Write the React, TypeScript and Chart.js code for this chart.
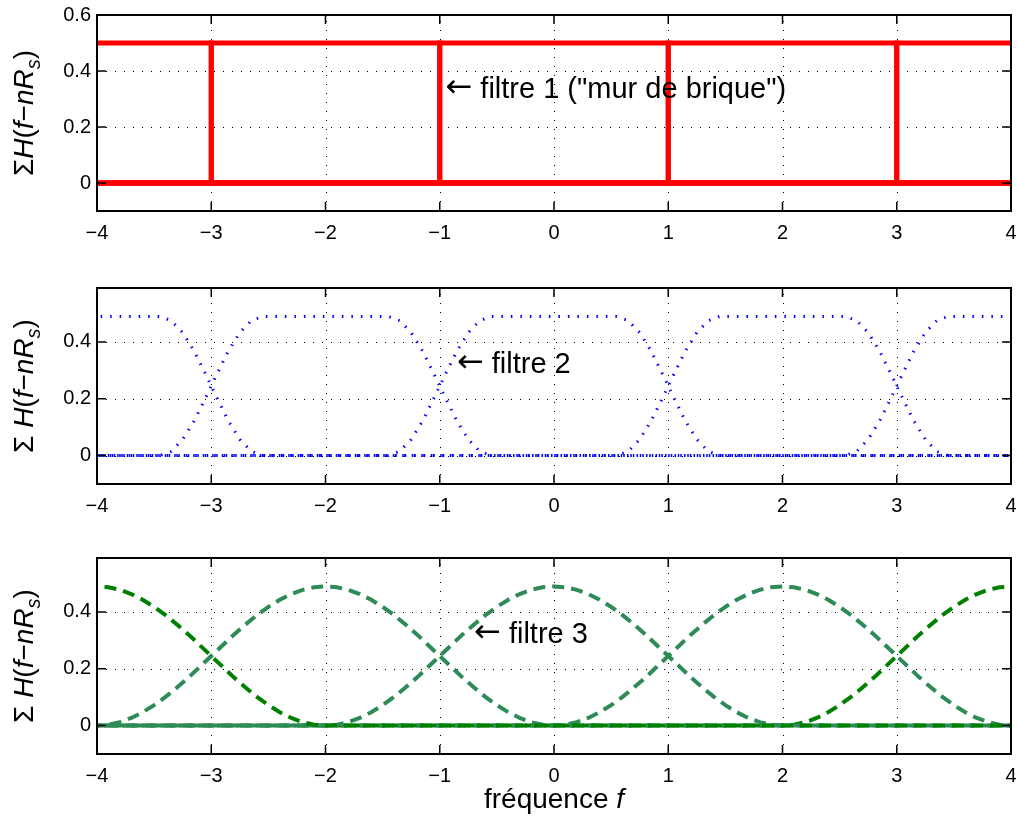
import React, { useEffect, useRef } from "react";
import { Chart, registerables } from "chart.js";
Chart.register(...registerables);

const FONT = "'Liberation Sans', Arial, Helvetica, sans-serif";
const ARROW_FONT = "'DejaVu Sans', 'Liberation Sans', sans-serif";

// axes
const xMin = -4;
const xMax = 4;
const xTicks = [-4, -3, -2, -1, 0, 1, 2, 3, 4];
const yRange1 = [-0.1, 0.6];
const yRange23 = [-0.1, 0.59];
const yTicks1 = [0, 0.2, 0.4, 0.6];
const yTicks23 = [0, 0.2, 0.4];

// shifts n*Rs of the filter
const centers = [-4, -2, 0, 2, 4];

// filter 1 : brick wall
const f1F = [-1, -1, 1, 1];
const f1H = [0, 0.5, 0.5, 0];

// filter 2 : raised cosine, small roll-off
const f2F = [-1.45, -1.35, -1.25, -1.15, -1.05, -0.95, -0.85, -0.75, -0.65, -0.55,
  0.55, 0.65, 0.75, 0.85, 0.95, 1.05, 1.15, 1.25, 1.35, 1.45];
const f2H = [0, 0.015, 0.057, 0.122, 0.203, 0.287, 0.368, 0.433, 0.475, 0.49,
  0.49, 0.475, 0.433, 0.368, 0.287, 0.203, 0.122, 0.057, 0.015, 0];

// filter 3 : raised cosine, full roll-off
const f3F = [-2, -1.9, -1.8, -1.7, -1.6, -1.5, -1.4, -1.3, -1.2, -1.1, -1, -0.9, -0.8, -0.7, -0.6, -0.5,
  -0.4, -0.3, -0.2, -0.1, 0, 0.1, 0.2, 0.3, 0.4, 0.5, 0.6, 0.7, 0.8, 0.9, 1, 1.1, 1.2, 1.3, 1.4, 1.5,
  1.6, 1.7, 1.8, 1.9, 2];
const f3H = [0, 0.003, 0.012, 0.027, 0.047, 0.072, 0.101, 0.134, 0.169, 0.207, 0.245, 0.283, 0.321,
  0.356, 0.389, 0.418, 0.443, 0.463, 0.478, 0.487, 0.49, 0.487, 0.478, 0.463, 0.443, 0.418, 0.389,
  0.356, 0.321, 0.283, 0.245, 0.207, 0.169, 0.134, 0.101, 0.072, 0.047, 0.027, 0.012, 0.003, 0];
const f3Colors = ["#008000", "#2e8b57", "#2e8b57", "#2e8b57", "#008000"];
const dashOffsets = [0, 6, 12, 3, 9];

// annotations
const annText = [' filtre 1 ("mur de brique")', " filtre 2", " filtre 3"];
const annX = [-0.95, -0.85, -0.7];
const annY = [0.333, 0.32, 0.32];

const panels = [
  { top: 0, height: 270, axisH: 59 },
  { top: 273, height: 270, axisH: 59 },
  { top: 543, height: 276, axisH: 65 },
];

function shifted(c: number, F: number[], H: number[]) {
  const pts: { x: number; y: number }[] = [];
  if (c + F[0] > -5) pts.push({ x: -5, y: 0 });
  F.forEach((f, i) => pts.push({ x: c + f, y: H[i] }));
  if (c + F[F.length - 1] < 5) pts.push({ x: 5, y: 0 });
  return pts;
}

function buildDatasets(idx: number) {
  if (idx === 0) {
    return centers.map((c) => ({
      data: shifted(c, f1F, f1H),
      borderColor: "#ff0000",
      borderWidth: 5,
      pointRadius: 0,
    }));
  }
  if (idx === 1) {
    return centers.map((c, i) => ({
      data: shifted(c, f2F, f2H),
      borderColor: "#0000ff",
      borderWidth: 3,
      borderDash: [1.5, 8],
      borderDashOffset: i * 2,
      pointRadius: 0,
    }));
  }
  return centers.map((c, i) => ({
    data: shifted(c, f3F, f3H),
    borderColor: f3Colors[i],
    borderWidth: 4,
    borderDash: [12, 7],
    borderDashOffset: dashOffsets[i],
    pointRadius: 0,
  }));
}

const fmt = (v: number) => {
  const r = Math.round(v * 100) / 100;
  return r < 0 ? "\u2212" + Math.abs(r) : String(r);
};

type Seg = [string, string];
const yLabel1: Seg[] = [["\u03A3", "n"], ["H", "i"], ["(", "n"], ["f", "i"], ["\u2212", "n"], ["n", "i"], ["R", "i"], ["s", "s"], [")", "n"]];
const yLabel23: Seg[] = [["\u03A3", "n"], [" ", "n"], ["H", "i"], ["(", "n"], ["f", "i"], ["\u2212", "n"], ["n", "i"], ["R", "i"], ["s", "s"], [")", "n"]];
const xLabel: Seg[] = [["fr\u00e9quence ", "n"], ["f", "i"]];

function segFont(kind: string, size: number) {
  if (kind === "i") return `italic ${size}px ${FONT}`;
  if (kind === "s") return `italic ${Math.round(size * 0.7)}px ${FONT}`;
  return `${size}px ${FONT}`;
}

function drawSegs(ctx: CanvasRenderingContext2D, segs: Seg[], size: number) {
  let total = 0;
  const widths = segs.map(([t, k]) => {
    ctx.font = segFont(k, size);
    const w = ctx.measureText(t).width;
    total += w;
    return w;
  });
  let x = -total / 2;
  ctx.textAlign = "left";
  ctx.textBaseline = "alphabetic";
  segs.forEach(([t, k], i) => {
    ctx.font = segFont(k, size);
    ctx.fillText(t, x, k === "s" ? size * 0.25 : 0);
    x += widths[i];
  });
}

function framePlugin(idx: number) {
  const yTicks = idx === 0 ? yTicks1 : yTicks23;
  return {
    id: "frame" + idx,
    beforeDatasetsDraw(chart: any) {
      const { ctx, chartArea: a, scales } = chart;
      const xs = scales.x;
      const ys = scales.y;
      ctx.save();
      ctx.strokeStyle = "#000";
      ctx.lineWidth = 1;
      ctx.setLineDash([1, 8]);
      xTicks.forEach((v) => {
        const px = Math.round(xs.getPixelForValue(v)) + 0.5;
        if (px <= a.left + 2 || px >= a.right - 2) return;
        ctx.beginPath();
        ctx.moveTo(px, a.bottom);
        ctx.lineTo(px, a.top);
        ctx.stroke();
      });
      yTicks.forEach((v) => {
        const py = Math.round(ys.getPixelForValue(v)) + 0.5;
        if (py <= a.top + 2 || py >= a.bottom - 2) return;
        ctx.beginPath();
        ctx.moveTo(a.left, py);
        ctx.lineTo(a.right, py);
        ctx.stroke();
      });
      ctx.restore();
    },
    afterDatasetsDraw(chart: any) {
      const { ctx, chartArea: a, scales } = chart;
      const xs = scales.x;
      const ys = scales.y;
      ctx.save();
      ctx.strokeStyle = "#000";
      ctx.lineWidth = 1.5;
      const tl = 9;
      xTicks.forEach((v) => {
        const px = xs.getPixelForValue(v);
        ctx.beginPath();
        ctx.moveTo(px, a.bottom);
        ctx.lineTo(px, a.bottom - tl);
        ctx.moveTo(px, a.top);
        ctx.lineTo(px, a.top + tl);
        ctx.stroke();
      });
      yTicks.forEach((v) => {
        const py = ys.getPixelForValue(v);
        ctx.beginPath();
        ctx.moveTo(a.left, py);
        ctx.lineTo(a.left + tl, py);
        ctx.moveTo(a.right, py);
        ctx.lineTo(a.right - tl, py);
        ctx.stroke();
      });
      ctx.lineWidth = 2;
      ctx.strokeRect(a.left, a.top, a.right - a.left, a.bottom - a.top);

      // annotation: arrow + text
      const ax = xs.getPixelForValue(annX[idx]);
      const ay = ys.getPixelForValue(annY[idx]);
      ctx.fillStyle = "#000";
      ctx.textAlign = "left";
      ctx.textBaseline = "middle";
      ctx.font = `32px ${ARROW_FONT}`;
      ctx.fillText("\u2190", ax, ay - 1);
      const aw = ctx.measureText("\u2190").width;
      ctx.font = `29px ${FONT}`;
      ctx.fillText(annText[idx], ax + aw, ay);

      // y label
      ctx.save();
      ctx.translate(33, (a.top + a.bottom) / 2);
      ctx.rotate(-Math.PI / 2);
      drawSegs(ctx, idx === 0 ? yLabel1 : yLabel23, 28);
      ctx.restore();

      // x label
      if (idx === 2) {
        ctx.save();
        ctx.translate((a.left + a.right) / 2, chart.height - 11);
        drawSegs(ctx, xLabel, 28);
        ctx.restore();
      }
      ctx.restore();
    },
  };
}

function Panel({ idx }: { idx: number }) {
  const ref = useRef<HTMLCanvasElement>(null);
  const cfg = panels[idx];
  useEffect(() => {
    const yr = idx === 0 ? yRange1 : yRange23;
    const yt = idx === 0 ? yTicks1 : yTicks23;
    const chart = new Chart(ref.current!, {
      type: "line",
      data: { datasets: buildDatasets(idx) as any },
      options: {
        responsive: false,
        animation: false,
        events: [],
        layout: { padding: { top: 15, right: 7, left: 0, bottom: 0 } },
        plugins: { legend: { display: false }, tooltip: { enabled: false } },
        elements: { point: { radius: 0 }, line: { tension: 0 } },
        scales: {
          x: {
            type: "linear",
            min: xMin,
            max: xMax,
            afterBuildTicks: (s: any) => {
              s.ticks = xTicks.map((v) => ({ value: v }));
            },
            afterFit: (s: any) => {
              s.height = cfg.axisH;
              s.paddingLeft = 0;
              s.paddingRight = 0;
            },
            grid: { display: false, drawTicks: false },
            border: { display: false },
            ticks: {
              autoSkip: false,
              maxRotation: 0,
              padding: 10,
              color: "#000",
              font: { family: FONT, size: 20 },
              callback: (v: any) => fmt(Number(v)),
            },
          },
          y: {
            type: "linear",
            min: yr[0],
            max: yr[1],
            afterBuildTicks: (s: any) => {
              s.ticks = yt.map((v) => ({ value: v }));
            },
            afterFit: (s: any) => {
              s.width = 97;
              s.paddingTop = 0;
              s.paddingBottom = 0;
            },
            grid: { display: false, drawTicks: false },
            border: { display: false },
            ticks: {
              autoSkip: false,
              padding: 6,
              color: "#000",
              font: { family: FONT, size: 20 },
              callback: (v: any) => fmt(Number(v)),
            },
          },
        },
      } as any,
      plugins: [framePlugin(idx)],
    });
    return () => chart.destroy();
  }, []);
  return (
    <canvas
      ref={ref}
      width={1018}
      height={cfg.height}
      style={{ position: "absolute", left: 0, top: cfg.top, display: "block" }}
    />
  );
}

export default function App() {
  return (
    <div style={{ position: "absolute", left: 0, top: 0, width: 1018, height: 819, background: "#fff", overflow: "hidden" }}>
      <Panel idx={0} />
      <Panel idx={1} />
      <Panel idx={2} />
    </div>
  );
}
